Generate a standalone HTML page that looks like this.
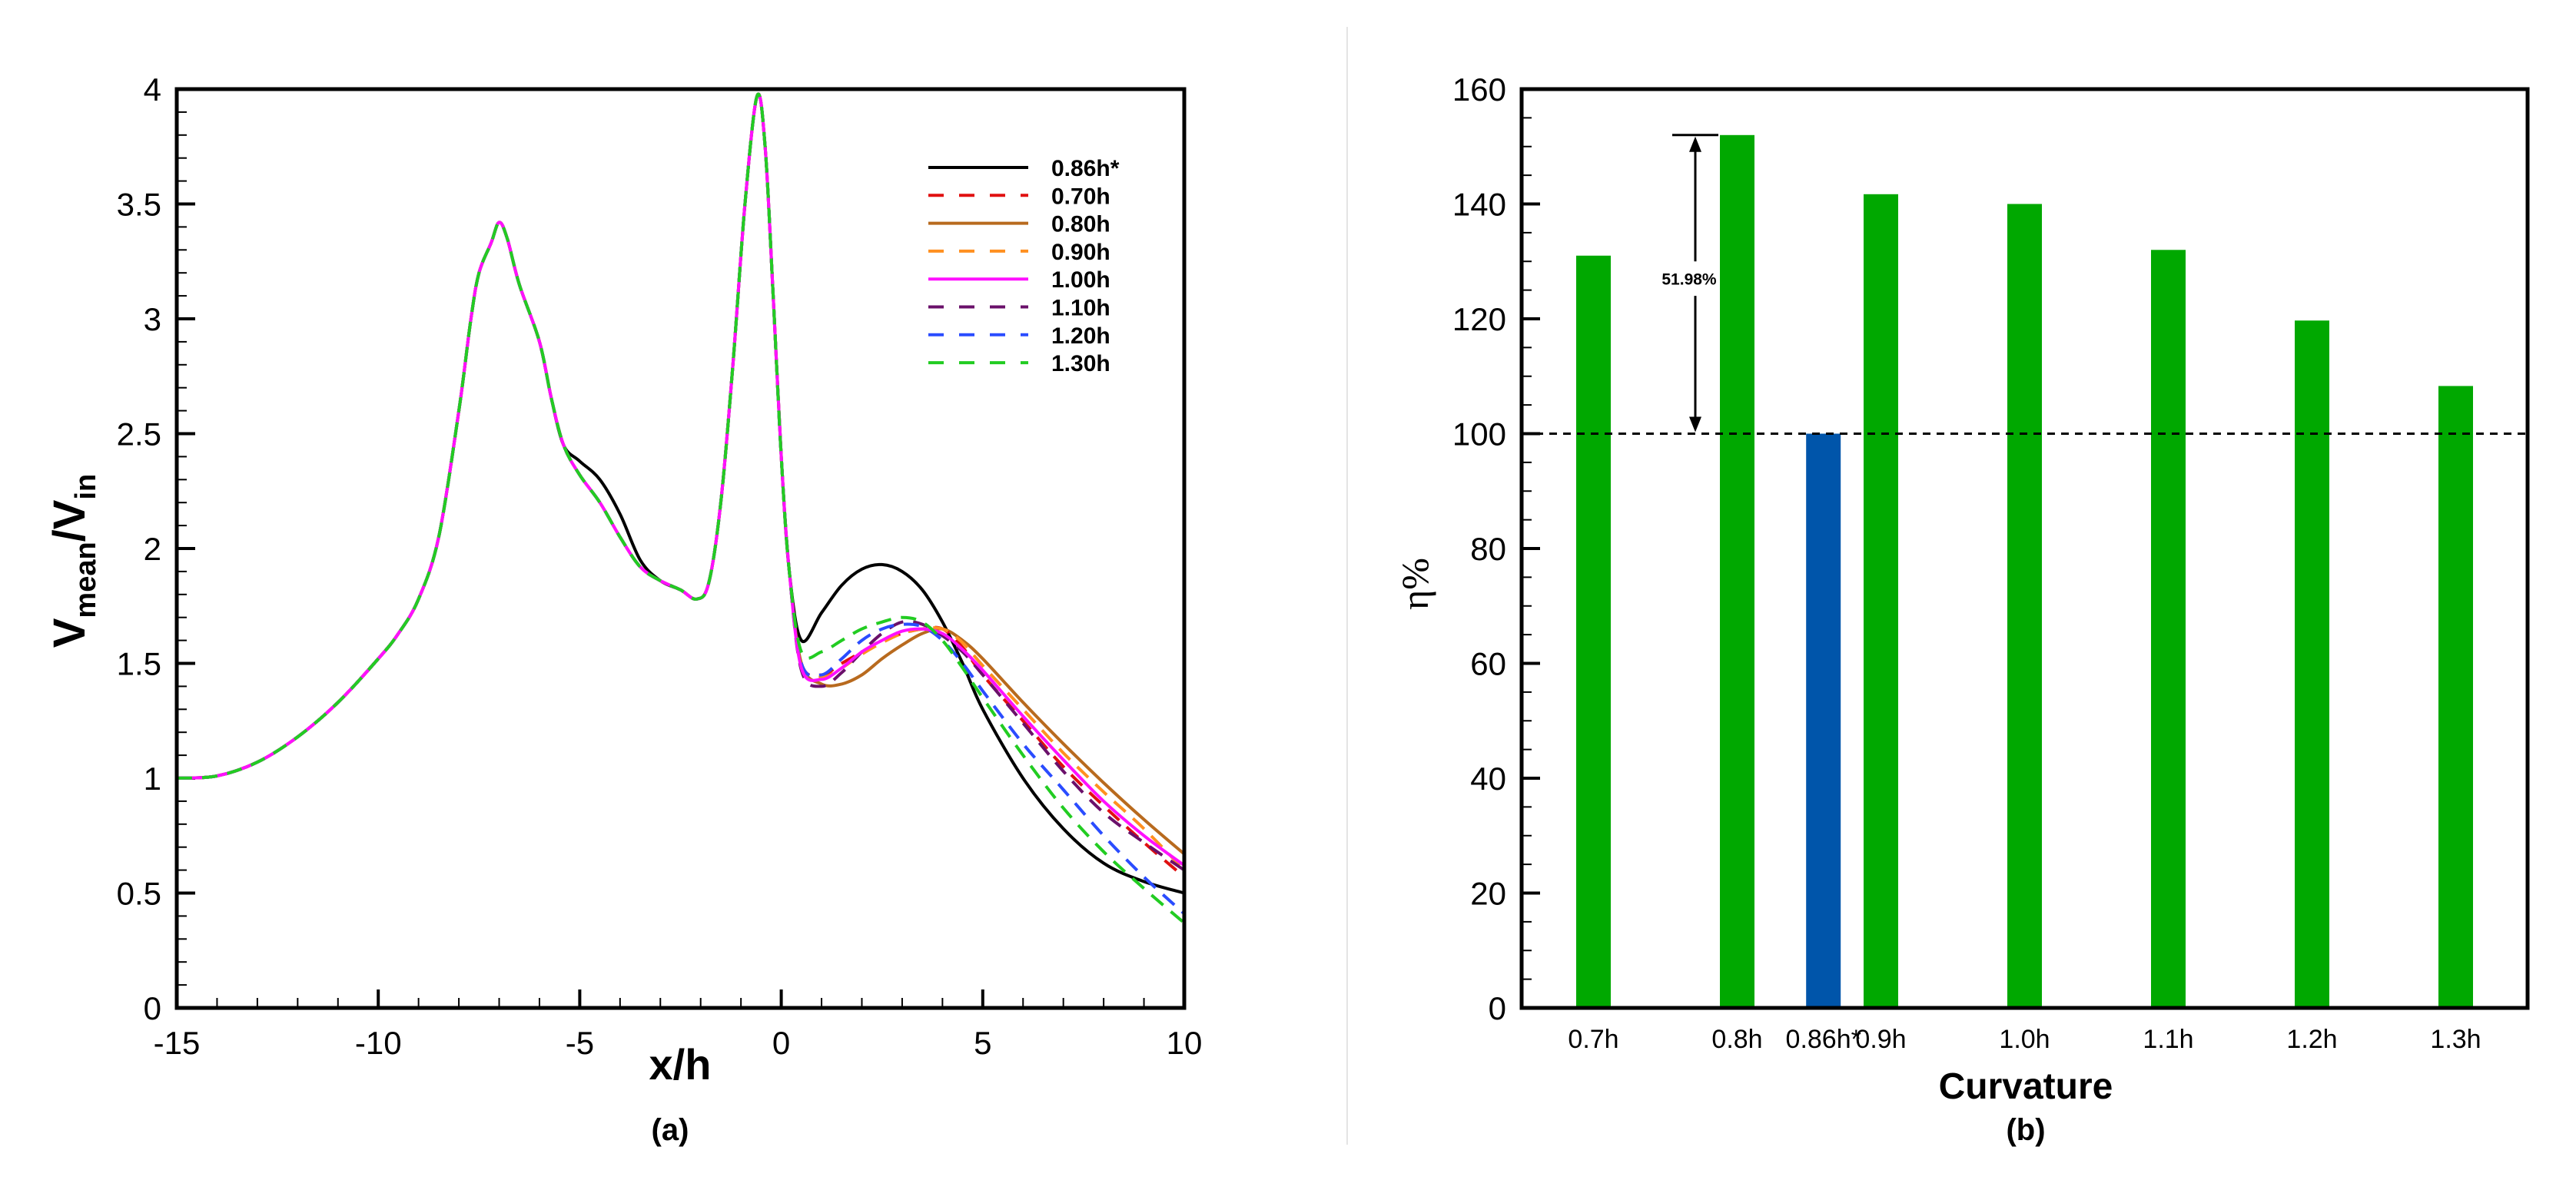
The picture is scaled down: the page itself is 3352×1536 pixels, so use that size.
<!DOCTYPE html>
<html><head><meta charset="utf-8">
<style>
html,body{margin:0;padding:0;background:#fff;}
svg{display:block;font-family:"Liberation Sans",sans-serif;}
</style></head>
<body>
<svg id="fig" width="3352" height="1536" viewBox="0 0 3352 1536" xmlns="http://www.w3.org/2000/svg">
<rect x="0" y="0" width="3352" height="1536" fill="#fff"/>
<line x1="1753" y1="35" x2="1753" y2="1490" stroke="#e4e4e4" stroke-width="2"/>
<g id="chartA"></g>
<g id="chartB"></g>
<text x="885" y="1405" font-size="56" font-weight="bold" text-anchor="middle">x/h</text>
<text x="872" y="1484" font-size="40" font-weight="bold" text-anchor="middle">(a)</text>
<text transform="translate(110,730) rotate(-90)" font-size="58" font-weight="bold" text-anchor="middle">V<tspan font-size="38" dy="14">mean</tspan><tspan dy="-14">/V</tspan><tspan font-size="38" dy="14">in</tspan></text>
<text x="2636" y="1430" font-size="48" font-weight="bold" text-anchor="middle">Curvature</text>
<text x="2636" y="1484" font-size="40" font-weight="bold" text-anchor="middle">(b)</text>
<text transform="translate(1858,760) rotate(-90)" font-size="50" font-family="Liberation Serif,serif" text-anchor="middle">η%</text>
</svg>
<script>
// ---------- Chart A data ----------
const baseX = [-15,-14,-13,-12,-11,-10,-9.5,-9,-8.5,-8,-7.7,-7.5,-7.2,-7,-6.8,-6.5,-6,-5.7,-5.4,-5,-4.5,-4,-3.5,-3,-2.5,-2.1,-1.8,-1.5,-1.2,-0.9,-0.6,-0.4,-0.2,0,0.2];
const baseY = [1.0,1.01,1.07,1.18,1.33,1.52,1.63,1.78,2.05,2.6,3.0,3.2,3.33,3.42,3.35,3.15,2.9,2.65,2.45,2.32,2.2,2.05,1.92,1.86,1.82,1.78,1.85,2.2,2.8,3.5,3.97,3.75,3.1,2.4,1.9];
const blackMidY = [2.38,2.3,2.15,1.95]; // x = -5,-4.5,-4,-3.5
const tailX = [0.5,1,1.5,2,2.5,3,3.5,4,4.5,5,6,7,8,9,10];
const tail086 = [1.6,1.72,1.84,1.91,1.93,1.9,1.82,1.68,1.5,1.3,1.0,0.78,0.63,0.55,0.5];
const tail070 = [1.5,1.45,1.5,1.55,1.6,1.63,1.65,1.65,1.57,1.45,1.25,1.05,0.88,0.72,0.57];
const tail080 = [1.5,1.41,1.41,1.45,1.52,1.58,1.63,1.65,1.6,1.52,1.33,1.15,0.98,0.82,0.67];
const tail090 = [1.5,1.44,1.48,1.54,1.59,1.63,1.65,1.65,1.59,1.49,1.3,1.11,0.94,0.78,0.6];
const tail100 = [1.48,1.43,1.48,1.55,1.6,1.64,1.65,1.63,1.56,1.47,1.27,1.08,0.9,0.75,0.62];
const tail110 = [1.47,1.40,1.46,1.55,1.63,1.68,1.67,1.62,1.55,1.45,1.24,1.03,0.85,0.72,0.6];
const tail120 = [1.5,1.45,1.52,1.6,1.65,1.67,1.66,1.6,1.5,1.38,1.15,0.95,0.75,0.57,0.41];
const tail130 = [1.55,1.55,1.6,1.65,1.68,1.7,1.68,1.6,1.48,1.35,1.1,0.87,0.68,0.52,0.37];
const seriesNames = ["0.86h*","0.70h","0.80h","0.90h","1.00h","1.10h","1.20h","1.30h"];
const seriesColors = ["#000000","#e01010","#b86a1e","#ff9020","#ff10ff","#6a106a","#2a4cff","#22cc22"];
const seriesDashed = [false,true,false,true,false,true,true,true];
const seriesTails = [tail086,tail070,tail080,tail090,tail100,tail110,tail120,tail130];
const drawOrder = [0,2,1,3,5,6,4,7];
const xTicksA = [-15,-10,-5,0,5,10];
const yTicksA = [0,0.5,1,1.5,2,2.5,3,3.5,4];

// ---------- Chart B data ----------
const barLabels = ["0.7h","0.8h","0.86h*","0.9h","1.0h","1.1h","1.2h","1.3h"];
const barPos = [0.7,0.8,0.86,0.9,1.0,1.1,1.2,1.3];
const barValues = [131,152,100,141.7,140,132,119.7,108.3];
const barColors = ["#00a800","#00a800","#0055aa","#00a800","#00a800","#00a800","#00a800","#00a800"];
const yTicksB = [0,20,40,60,80,100,120,140,160];
const refValue = 100;
const annotTop = 152;
const annotText = "51.98%";

const NS = "http://www.w3.org/2000/svg";
function mk(tag, attrs, parent){const e=document.createElementNS(NS,tag);for(const k in attrs)e.setAttribute(k,attrs[k]);parent.appendChild(e);return e;}

// ---------- Chart A ----------
const A = {l:230,r:1541,t:116,b:1312,x0:-15,x1:10,y0:0,y1:4};
const ax = v => A.l + (v-A.x0)/(A.x1-A.x0)*(A.r-A.l);
const ay = v => A.b - (v-A.y0)/(A.y1-A.y0)*(A.b-A.t);
const gA = document.getElementById('chartA');

function smoothPath(xs, ys){
  const p = xs.map((x,i)=>[ax(x),ay(ys[i])]);
  let d = "M"+p[0][0].toFixed(1)+","+p[0][1].toFixed(1);
  for(let i=0;i<p.length-1;i++){
    const p0=p[Math.max(0,i-1)],p1=p[i],p2=p[i+1],p3=p[Math.min(p.length-1,i+2)];
    const c1=[p1[0]+(p2[0]-p0[0])/6,p1[1]+(p2[1]-p0[1])/6];
    const c2=[p2[0]-(p3[0]-p1[0])/6,p2[1]-(p3[1]-p1[1])/6];
    d+=" C"+c1[0].toFixed(1)+","+c1[1].toFixed(1)+" "+c2[0].toFixed(1)+","+c2[1].toFixed(1)+" "+p2[0].toFixed(1)+","+p2[1].toFixed(1);
  }
  return d;
}

for(let v=A.x0; v<=A.x1; v+=1){
  const major = xTicksA.includes(v);
  const t = mk('line',{x1:ax(v),x2:ax(v),y1:A.b,y2:A.b-(major?24:13),stroke:'#000','stroke-width':major?4:2},gA);
  
  
}
xTicksA.forEach(v=>{
  const t = mk('text',{x:ax(v),y:A.b+60,'font-size':42,'text-anchor':'middle'},gA);
  t.textContent = v;
  
  
});
for(let i=0;i<=40;i++){
  const v=i*0.1; const major = i%5===0;
  const t = mk('line',{x1:A.l,x2:A.l+(major?24:13),y1:ay(v),y2:ay(v),stroke:'#000','stroke-width':major?4:2},gA);
  
  
}
yTicksA.forEach(v=>{
  const t = mk('text',{x:A.l-20,y:ay(v)+15,'font-size':42,'text-anchor':'end'},gA);
  t.textContent = v;
  
  
});

drawOrder.forEach(s=>{
  const xs = baseX.concat(tailX);
  let ys = baseY.slice();
  if(s===0){ [-5,-4.5,-4,-3.5].forEach((xv,k)=>{ys[baseX.indexOf(xv)]=blackMidY[k];}); }
  ys = ys.concat(seriesTails[s]);
  const p = mk('path',{d:smoothPath(xs,ys),fill:'none',stroke:seriesColors[s],'stroke-width':4,'stroke-linejoin':'round'},gA);
  if(seriesDashed[s]) p.setAttribute('stroke-dasharray','20 13');
  
  
});
const frameA = mk('rect',{x:A.l,y:A.t,width:A.r-A.l,height:A.b-A.t,fill:'none',stroke:'#000','stroke-width':5},gA);



const legY0 = 218, legDy = 36.3;
seriesNames.forEach((n,i)=>{
  const y = legY0 + i*legDy;
  const l = mk('line',{x1:1208,x2:1338,y1:y,y2:y,stroke:seriesColors[i],'stroke-width':4},gA);
  if(seriesDashed[i]) l.setAttribute('stroke-dasharray','20 20');
  
  
  const t = mk('text',{x:1368,y:y+11,'font-size':30,'font-weight':'bold'},gA);
  t.textContent = n;
  
  
});

// ---------- Chart B ----------
const B = {l:1980,r:3289,t:116,b:1312,x0:0.65,x1:1.35,y0:0,y1:160};
const bx = v => B.l + (v-B.x0)/(B.x1-B.x0)*(B.r-B.l);
const by = v => B.b - (v-B.y0)/(B.y1-B.y0)*(B.b-B.t);
const gB = document.getElementById('chartB');
const bw = 45;
barValues.forEach((v,i)=>{
  const r = mk('rect',{x:bx(barPos[i])-bw/2,y:by(v),width:bw,height:by(0)-by(v),fill:barColors[i]},gB);
  
  
  const t = mk('text',{x:bx(barPos[i]),y:B.b+52,'font-size':34,'text-anchor':'middle'},gB);
  t.textContent = barLabels[i];
  
  
});
for(let v=0; v<=160; v+=5){
  const major = v%20===0;
  const t = mk('line',{x1:B.l,x2:B.l+(major?24:13),y1:by(v),y2:by(v),stroke:'#000','stroke-width':major?4:2},gB);
  
  
}
yTicksB.forEach(v=>{
  const t = mk('text',{x:B.l-20,y:by(v)+15,'font-size':42,'text-anchor':'end'},gB);
  t.textContent = v;
  
  
});
const ref = mk('line',{x1:B.l,x2:B.r,y1:by(refValue),y2:by(refValue),stroke:'#000','stroke-width':3,'stroke-dasharray':'10 8'},gB);


const axX = 2206;
const cap = mk('line',{x1:2176,x2:2236,y1:by(annotTop),y2:by(annotTop),stroke:'#000','stroke-width':3},gB);


const a1 = mk('line',{x1:axX,x2:axX,y1:by(annotTop)+8,y2:by(130),stroke:'#000','stroke-width':3},gB);


const a2 = mk('line',{x1:axX,x2:axX,y1:by(124),y2:by(refValue)-8,stroke:'#000','stroke-width':3},gB);


const h1 = mk('path',{d:`M${axX-8},${by(annotTop)+22} L${axX},${by(annotTop)+2} L${axX+8},${by(annotTop)+22} Z`,fill:'#000'},gB);


const h2 = mk('path',{d:`M${axX-8},${by(refValue)-22} L${axX},${by(refValue)-2} L${axX+8},${by(refValue)-22} Z`,fill:'#000'},gB);


const at = mk('text',{x:axX-8,y:by(127)+8,'font-size':21,'font-weight':'bold','text-anchor':'middle'},gB);
at.textContent = annotText;


const frameB = mk('rect',{x:B.l,y:B.t,width:B.r-B.l,height:B.b-B.t,fill:'none',stroke:'#000','stroke-width':5},gB);


</script>
</body></html>
